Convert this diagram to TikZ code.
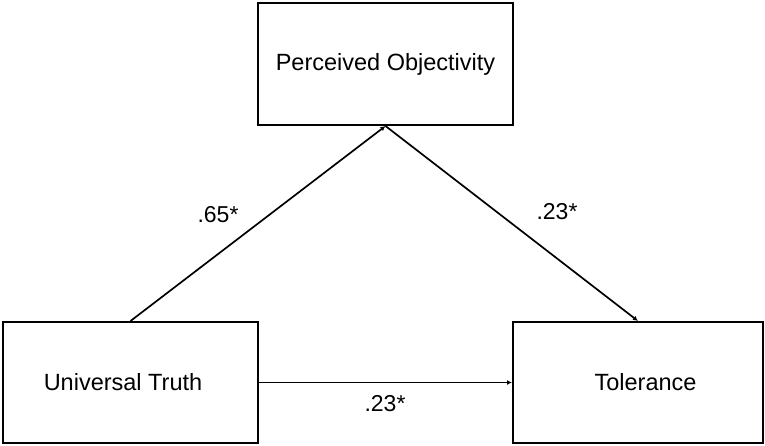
\documentclass[tikz,border=0pt]{standalone}
\usepackage{fontspec}
\setmainfont{Liberation Sans}
\usetikzlibrary{arrows.meta}
\begin{document}
\begin{tikzpicture}[x=1pt,y=1pt,
  box/.style={draw, line width=2pt, minimum width=255pt, minimum height=121pt,
    font=\fontsize{23.5}{28}\selectfont},
  effect/.style={line width=1.7pt, -{Latex[length=5pt,width=5pt]}},
  coef/.style={font=\fontsize{23}{28}\selectfont}]
  \useasboundingbox (0,0) rectangle (765,445);
  %variables
  \node[box, minimum height=122pt] (obj) at (385.5,381) {Perceived Objectivity};
  \node[box] (truth) at (130.5,62.5) {Universal Truth\hspace*{15pt}};
  \node[box, minimum width=250pt] (tol) at (638,62.5) {\hspace*{15pt}Tolerance};
  %paths
  \draw[effect] (truth.north) -- (obj.south);
  \draw[effect] (obj.south) -- (tol.north);
  \draw[effect] (truth.east) -- (tol.west);
  %coefficients
  \node[coef] (ab) at (218,230) {.65*};
  \node[coef] (bc) at (557,233) {.23*};
  \node[coef] (ac) at (385,41) {.23*};
\end{tikzpicture}
\end{document}
